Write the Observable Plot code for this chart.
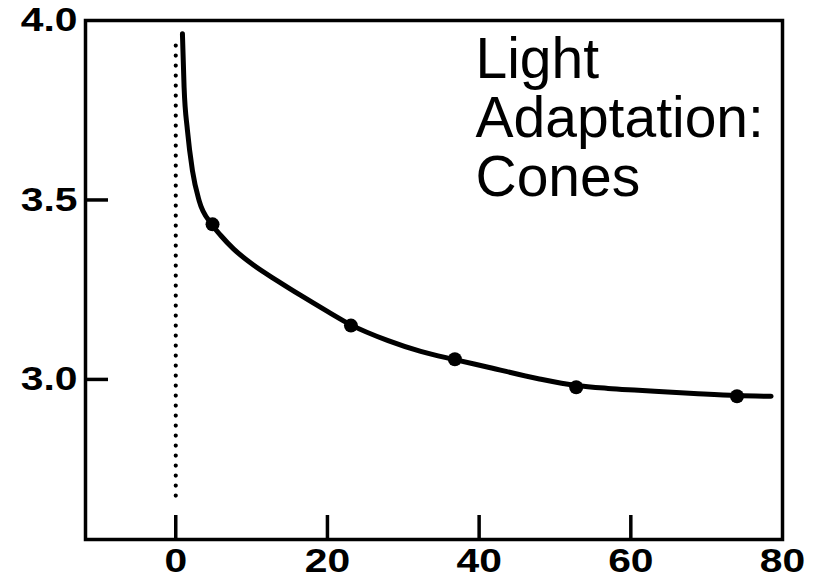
<!DOCTYPE html>
<html><head><meta charset="utf-8">
<script src="https://cdn.jsdelivr.net/npm/d3@7"></script>
<script src="https://cdn.jsdelivr.net/npm/@observablehq/plot@0.6"></script>
<style>body{margin:0;background:#fff}</style>
</head><body><div id="chart"></div>
<script>
// Smooth fitted curve
const curveX = [0.88, 1.1, 1.54, 2.2, 3.07, 4.75, 5.94, 7.65, 10.29, 13.46, 16.49, 20.05, 23.1, 28.0, 32.3, 36.8, 41.2, 47.8, 52.8, 57.0, 61.0, 68.3, 74.0, 78.5];
const curveY = [3.963, 3.814, 3.694, 3.582, 3.499, 3.432, 3.401, 3.363, 3.318, 3.274, 3.234, 3.189, 3.152, 3.108, 3.078, 3.055, 3.034, 3.002, 2.983, 2.975, 2.970, 2.961, 2.955, 2.953];
// Measured data points
const pointX = [4.85, 23.1, 36.8, 52.8, 74.0];
const pointY = [3.432, 3.150, 3.056, 2.978, 2.953];
// Dotted vertical reference line at time 0
const dottedX = [0, 0];
const dottedY = [3.93, 2.655];
// Axes
const xTickMarks = [0, 20, 40, 60];
const xTickLabels = [0, 20, 40, 60, 80];
const yTickMarks = [3.0, 3.5];
const yTickLabels = [3.0, 3.5, 4.0];
const annotation = "Light\nAdaptation:\nCones";

const W = 825, H = 579, mL = 85, mR = 43, mT = 20, mB = 40;
const plotW = W - mL - mR, plotH = H - mT - mB;

const curve = curveX.map((x, i) => ({x, y: curveY[i]}));
const points = pointX.map((x, i) => ({x, y: pointY[i]}));
const dotted = dottedX.map((x, i) => ({x, y: dottedY[i]}));

const chart = Plot.plot({
  width: W, height: H,
  marginLeft: mL, marginRight: mR, marginTop: mT, marginBottom: mB,
  style: {fontFamily: "'Liberation Sans', Arial, sans-serif", color: "#000", background: "#fff", overflow: "visible"},
  x: {domain: [-11.9, 80]},
  y: {domain: [2.554, 4.0]},
  marks: [
    Plot.line(dotted, {x: "x", y: "y", stroke: "#000", strokeWidth: 4.2, strokeDasharray: "0 10", strokeLinecap: "round"}),
    Plot.line(curve, {x: "x", y: "y", curve: "monotone-x", stroke: "#000", strokeWidth: 5}),
    Plot.dot(points, {x: "x", y: "y", r: 7, fill: "#000"}),
    Plot.ruleX(xTickMarks, {insetTop: plotH - 24, stroke: "#000", strokeWidth: 3.5}),
    Plot.ruleY(yTickMarks, {insetRight: plotW - 23, stroke: "#000", strokeWidth: 3.5}),
    Plot.frame({stroke: "#000", strokeWidth: 3.5}),
    Plot.axisX(xTickLabels, {tickSize: 0, tickPadding: 8, fontSize: 34, fontWeight: "bold", label: null}),
    Plot.axisY(yTickLabels, {tickSize: 0, tickPadding: 8, tickFormat: ".1f", fontSize: 34, fontWeight: "bold", label: null}),
    Plot.text([annotation], {frameAnchor: "top-left", dx: 390, dy: 16, lineAnchor: "top", textAnchor: "start", fontSize: 57, lineHeight: 1.03, fill: "#000"})
  ]
});
document.getElementById("chart").appendChild(chart);
d3.select(chart).selectAll("g[aria-label='x-axis tick label'] text, g[aria-label='y-axis tick label'] text")
  .attr("transform", function() { return (this.getAttribute("transform") || "") + " scale(1.2,1)"; });
</script>
</body></html>
